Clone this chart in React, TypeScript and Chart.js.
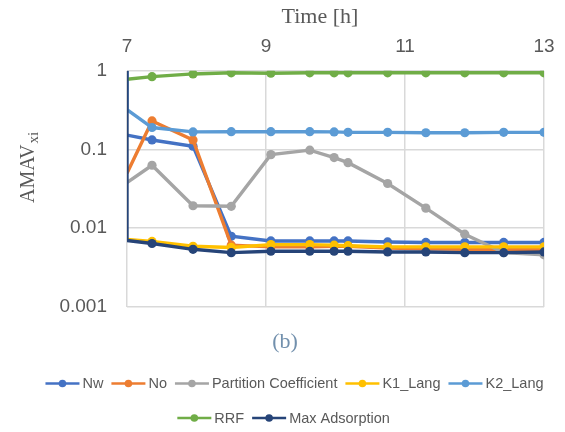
import React, { useEffect, useRef } from "react";
import { Chart, registerables } from "chart.js";

Chart.register(...registerables);

// ---- data ----
const TIMES = [7, 7.36, 7.95, 8.5, 9.07, 9.63, 9.98, 10.18, 10.75, 11.3, 11.86, 12.42, 13];
const NW = [0.152, 0.132, 0.11, 0.0079, 0.0069, 0.0069, 0.0069, 0.0069, 0.0067, 0.0066, 0.0066, 0.0066, 0.0066];
const NO = [0.05, 0.23, 0.132, 0.0061, 0.0058, 0.0058, 0.0059, 0.0059, 0.0056, 0.0055, 0.0054, 0.0054, 0.0054];
const PARTITION = [0.038, 0.063, 0.0193, 0.019, 0.086, 0.098, 0.079, 0.068, 0.037, 0.018, 0.0084, 0.0049, 0.0046];
const K1_LANG = [0.0072, 0.0068, 0.0059, 0.0057, 0.0062, 0.0062, 0.0061, 0.006, 0.0058, 0.0058, 0.0058, 0.0058, 0.0058];
const K2_LANG = [0.32, 0.19, 0.167, 0.168, 0.168, 0.168, 0.167, 0.165, 0.165, 0.163, 0.163, 0.165, 0.165];
const RRF = [0.78, 0.84, 0.91, 0.94, 0.93, 0.94, 0.94, 0.94, 0.94, 0.94, 0.94, 0.94, 0.94];
const MAX_ADS = [0.007, 0.0064, 0.0054, 0.0049, 0.0051, 0.0051, 0.0051, 0.0051, 0.005, 0.005, 0.0049, 0.0049, 0.005];
// lead-in values drawn at the first time (vertical segment on the left edge)
const K2_LEAD = 1;
const MAX_LEAD = 1;

const SERIES_NAMES = ["Nw", "No", "Partition Coefficient", "K1_Lang", "K2_Lang", "RRF", "Max Adsorption"];
const COLORS = ["#4472C4", "#ED7D31", "#A5A5A5", "#FFC000", "#5B9BD5", "#70AD47", "#264478"];
const Y_TICKS = [1, 0.1, 0.01, 0.001];
const Y_TICK_LABELS = ["1", "0.1", "0.01", "0.001"];
const X_TITLE = "Time [h]";
const Y_TITLE_MAIN = "AMAV";
const Y_TITLE_SUB = "xi";
const PANEL_LABEL = "(b)";
const LEGEND_ROWS = [[0, 1, 2, 3, 4], [5, 6]];

function pts(vals: number[], lead?: number) {
  const p = vals.map((v, i) => ({ x: TIMES[i], y: v }));
  if (lead !== undefined) p.unshift({ x: TIMES[0], y: lead });
  return p;
}

const textPlugin = {
  id: "texts",
  afterDraw(chart: any) {
    const ctx = chart.ctx as CanvasRenderingContext2D;
    ctx.save();
    // x title
    ctx.fillStyle = "#595959";
    ctx.font = '22px "Liberation Serif"';
    ctx.textAlign = "center";
    ctx.textBaseline = "middle";
    ctx.fillText(X_TITLE, 320, 17);
    // y title rotated
    ctx.save();
    ctx.translate(34, 203);
    ctx.rotate(-Math.PI / 2);
    ctx.textAlign = "left";
    ctx.textBaseline = "alphabetic";
    ctx.font = '20px "Liberation Serif"';
    ctx.fillText(Y_TITLE_MAIN, 0, 0);
    const w = ctx.measureText(Y_TITLE_MAIN).width;
    ctx.font = '15px "Liberation Serif"';
    ctx.fillText(Y_TITLE_SUB, w + 1, 4);
    ctx.restore();
    // panel label
    ctx.fillStyle = "#7290ad";
    ctx.font = '22px "Liberation Serif"';
    ctx.textAlign = "center";
    ctx.textBaseline = "middle";
    ctx.fillText(PANEL_LABEL, 285, 342);
    // legend
    ctx.font = '14.5px "Liberation Sans"';
    ctx.textBaseline = "middle";
    ctx.textAlign = "left";
    const lineW = 34, gapText = 3, gapItem = 8;
    const rowY = [383.5, 418];
    const rowCX = [294.5, 283.6];
    LEGEND_ROWS.forEach((row, r) => {
      const widths = row.map((i) => lineW + gapText + ctx.measureText(SERIES_NAMES[i]).width);
      const total = widths.reduce((a, b) => a + b, 0) + gapItem * (row.length - 1);
      let x = rowCX[r] - total / 2;
      const y = rowY[r];
      row.forEach((i, k) => {
        ctx.strokeStyle = COLORS[i];
        ctx.lineWidth = 2.5;
        ctx.beginPath();
        ctx.moveTo(x, y);
        ctx.lineTo(x + lineW, y);
        ctx.stroke();
        ctx.fillStyle = COLORS[i];
        ctx.beginPath();
        ctx.arc(x + lineW / 2, y, 3.8, 0, Math.PI * 2);
        ctx.fill();
        ctx.fillStyle = "#595959";
        ctx.fillText(SERIES_NAMES[i], x + lineW + gapText, y + 0.5);
        x += widths[k] + gapItem;
      });
    });
    ctx.restore();
  },
};

export default function App() {
  const ref = useRef<HTMLCanvasElement | null>(null);
  useEffect(() => {
    document.body.style.margin = "0";
    const seriesVals = [NW, NO, PARTITION, K1_LANG, K2_LANG, RRF, MAX_ADS];
    const leads: (number | undefined)[] = [undefined, undefined, undefined, undefined, K2_LEAD, undefined, MAX_LEAD];
    const datasets = seriesVals.map((vals, i) => ({
      label: SERIES_NAMES[i],
      data: pts(vals, leads[i]),
      borderColor: COLORS[i],
      backgroundColor: COLORS[i],
      pointBackgroundColor: COLORS[i],
      pointBorderColor: COLORS[i],
      pointBorderWidth: 0,
      pointRadius: (c: any) => (c.raw && c.raw.x === TIMES[0] ? 0 : 4.6),
      borderWidth: 3.4,
      tension: 0,
      fill: false,
      order: 7 - i,
    }));
    const chart = new Chart(ref.current!, {
      type: "line",
      data: { datasets },
      plugins: [textPlugin],
      options: {
        animation: false,
        responsive: false,
        devicePixelRatio: 1,
        layout: { padding: { left: 0, right: 21, top: 0, bottom: 125 } },
        plugins: { legend: { display: false }, tooltip: { enabled: false } },
        scales: {
          x: {
            type: "linear",
            position: "top",
            min: 7,
            max: 13,
            afterFit: (s: any) => { s.height = 70.7; s.paddingLeft = 0; s.paddingRight = 0; },
            ticks: {
              stepSize: 2,
              padding: 12.9,
              maxRotation: 0,
              color: "#595959",
              font: { family: "Liberation Sans", size: 19 },
            },
            grid: { color: "#d9d9d9", lineWidth: 1.5, drawTicks: false },
            border: { display: false },
          },
          y: {
            type: "logarithmic",
            min: 0.001,
            max: 1,
            afterFit: (s: any) => { s.width = 127; s.paddingTop = 0; s.paddingBottom = 0; },
            afterBuildTicks: (s: any) => { s.ticks = Y_TICKS.map((v) => ({ value: v })); },
            ticks: {
              padding: 20,
              color: "#595959",
              font: { family: "Liberation Sans", size: 19 },
              callback: (v: any) => {
                const idx = Y_TICKS.findIndex((t) => Math.abs(t - v) < t * 1e-6);
                return idx >= 0 ? Y_TICK_LABELS[idx] : "";
              },
            },
            grid: { color: "#d9d9d9", lineWidth: 1.5, drawTicks: false },
            border: { display: false },
          },
        },
      } as any,
    });
    return () => chart.destroy();
  }, []);
  return (
    <div style={{ width: 565, height: 432, background: "#fff" }}>
      <canvas ref={ref} width={565} height={432} style={{ display: "block" }} />
    </div>
  );
}
